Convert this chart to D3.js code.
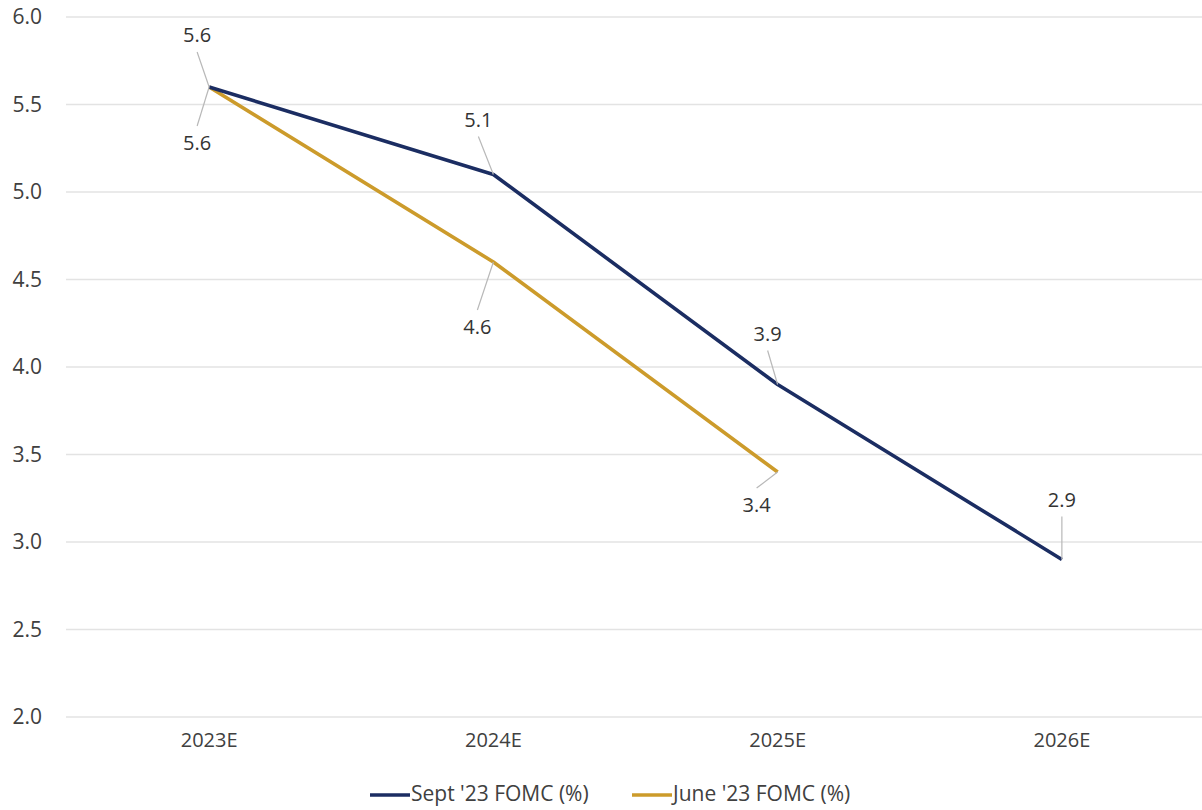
<!DOCTYPE html>
<html><head><meta charset="utf-8">
<script src="https://cdn.jsdelivr.net/npm/d3@7"></script>
<style>
html,body{margin:0;padding:0;background:#fff;}
svg{display:block;font-family:"Open Sans","Noto Sans",sans-serif;}
</style></head>
<body><svg id="c" width="1202" height="810"></svg>
<script>
const categories = ["2023E","2024E","2025E","2026E"];
const septValues = [5.6, 5.1, 3.9, 2.9];
const juneValues = [5.6, 4.6, 3.4];
const yTicks = [2.0,2.5,3.0,3.5,4.0,4.5,5.0,5.5,6.0];
const seriesNames = ["Sept '23 FOMC (%)", "June '23 FOMC (%)"];
// label offsets (layout only)
const septLabelOffsets = [[-12,-50],[-15,-53],[-10,-49],[0,-58]];
const juneLabelOffsets = [[-12,58],[-16,67],[-21,35]];

const svg = d3.select("#c");
const x = d3.scaleBand().domain(categories).range([67,1204]);
const y = d3.scaleLinear().domain([2,6]).range([717,17]);
const cx = d => x(d) + x.bandwidth()/2;

const colors = ["#1b2d62", "#cc9b2b"];
const FONT = "\"Open Sans\",\"Noto Sans\",sans-serif";

// gridlines
svg.append("g").selectAll("line").data(yTicks).join("line")
  .attr("x1",66).attr("x2",1202)
  .attr("y1",d=>y(d)).attr("y2",d=>y(d))
  .attr("stroke","#e3e3e3").attr("stroke-width",1.5);

// y axis labels
const yAxis = d3.axisLeft(y).tickValues(yTicks).tickFormat(d3.format(".1f")).tickSize(0).tickPadding(0);
const ya = svg.append("g").attr("transform","translate(42,0)").call(yAxis);
ya.select(".domain").remove();
ya.selectAll("text").attr("font-size",21).attr("fill","#404040").attr("font-family",FONT);

// x axis labels
const xAxis = d3.axisBottom(x).tickSize(0).tickPadding(0);
const xa = svg.append("g").attr("transform","translate(0,733)").call(xAxis);
xa.select(".domain").remove();
xa.selectAll("text").attr("font-size",20).attr("fill","#404040").attr("font-family",FONT);

const line = d3.line().x(d=>cx(d.c)).y(d=>y(d.v));
const sept = septValues.map((v,i)=>({c:categories[i],v}));
const june = juneValues.map((v,i)=>({c:categories[i],v}));

svg.append("path").datum(june).attr("d",line).attr("fill","none")
  .attr("stroke",colors[1]).attr("stroke-width",3.6).attr("stroke-linejoin","round");
svg.append("path").datum(sept).attr("d",line).attr("fill","none")
  .attr("stroke",colors[0]).attr("stroke-width",3.6).attr("stroke-linejoin","round");

function labels(data, offs, above){
  const g = svg.append("g");
  data.forEach((d,i)=>{
    const px = cx(d.c), py = y(d.v);
    const lx = px + offs[i][0], ly = py + offs[i][1];
    const ey = above ? ly + 15 : ly - 19;
    g.append("line").attr("x1",lx).attr("y1",ey).attr("x2",px).attr("y2",py)
      .attr("stroke","#b8b8b8").attr("stroke-width",1.2);
    g.append("text").attr("x",lx).attr("y",ly).attr("text-anchor","middle")
      .attr("dominant-baseline","middle").attr("font-size",20).attr("fill","#333")
      .attr("font-family",FONT)
      .text(d3.format(".1f")(d.v));
  });
}
labels(sept, septLabelOffsets, true);
labels(june, juneLabelOffsets, false);

// legend
const leg = svg.append("g").attr("transform","translate(0,795)");
const legX = [370, 632];
seriesNames.forEach((n,i)=>{
  leg.append("line").attr("x1",legX[i]).attr("x2",legX[i]+40).attr("y1",0).attr("y2",0)
    .attr("stroke",colors[i]).attr("stroke-width",3.6);
  leg.append("text").attr("x",legX[i]+41).attr("y",0).attr("dominant-baseline","middle")
    .attr("font-size",21).attr("fill","#404040").attr("font-family",FONT).text(n);
});
</script></body></html>
